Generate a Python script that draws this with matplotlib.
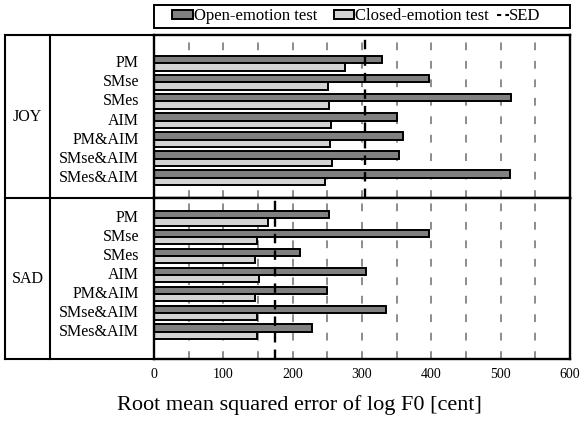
import matplotlib
matplotlib.use("Agg")
import matplotlib.pyplot as plt
import numpy as np
from matplotlib.lines import Line2D
from matplotlib.patches import Patch, Rectangle

plt.rcParams['font.family'] = ['Liberation Serif', 'DejaVu Serif']

methods = ["PM", "SMse", "SMes", "AIM", "PM&AIM", "SMse&AIM", "SMes&AIM"]
groups = ["JOY", "SAD"]

joy_open = [329, 397, 515, 350, 359, 354, 514]
joy_closed = [275, 251, 252, 255, 254, 257, 246]
sad_open = [253, 396, 211, 306, 250, 334, 228]
sad_closed = [165, 148, 146, 152, 145, 148, 148]
sed = [305, 175]

xticks = [0, 100, 200, 300, 400, 500, 600]
grid_x = [50, 100, 150, 200, 250, 300, 350, 400, 450, 500, 550]

open_color = "#808080"
closed_color = "#d3d3d3"

fig = plt.figure(figsize=(5.81, 4.26), dpi=100)

W, H = 581.0, 426.0
x_tab0, x_sep, x_plot0, x_plot1 = 5 / W, 50 / W, 154 / W, 570 / W
y_top, y_mid, y_bot = 1 - 35.3 / H, 1 - 198 / H, 1 - 359.3 / H

panels = [
    (groups[0], joy_open, joy_closed, sed[0], y_mid, y_top, (6 + 1.06, -1.47)),
    (groups[1], sad_open, sad_closed, sed[1], y_bot, y_mid, (6 + 1.46, -1.07)),
]

y = np.arange(len(methods))
h = 0.385
axes = []
for name, op, cl, s, yb, yt, ylim in panels:
    ax = fig.add_axes([x_plot0, yb, x_plot1 - x_plot0, yt - yb])
    for gx in grid_x:
        ax.axvline(gx, color="#8c8c8c", lw=1.4, dashes=(4, 5.5), zorder=0)
    ax.barh(y - h / 2, op, height=h, color=open_color, edgecolor="black", lw=1.4, zorder=2)
    ax.barh(y + h / 2, cl, height=h, color=closed_color, edgecolor="black", lw=1.4, zorder=2)
    ax.axvline(s, color="black", lw=1.7, dashes=(4, 3), zorder=3)
    ax.set_xlim(0, 600)
    ax.set_ylim(*ylim)
    ax.set_yticks([])
    ax.tick_params(axis="x", length=0)
    for sp in ax.spines.values():
        sp.set_linewidth(1.7)
    # method labels
    for i, m in enumerate(methods):
        ax.text(-0.036, i, m, transform=ax.get_yaxis_transform(), ha="right",
                va="center", fontsize=11.5)
    fig.text((x_tab0 + x_sep) / 2, (yb + yt) / 2, name, ha="center", va="center",
             fontsize=11.5)
    axes.append(ax)

axes[0].set_xticklabels([])
axes[1].set_xticks(xticks)
axes[1].tick_params(axis="x", labelsize=10, pad=6.5)
fig.text(299 / W, 1 - 405 / H, "Root mean squared error of log F0 [cent]",
         ha="center", va="center", fontsize=16)

# left table lines
lw = 1.5
for xx in [x_tab0, x_sep]:
    fig.add_artist(Line2D([xx, xx], [y_bot, y_top], color="black", lw=lw, transform=fig.transFigure))
for yy in [y_top, y_mid, y_bot]:
    fig.add_artist(Line2D([x_tab0, x_plot0], [yy, yy], color="black", lw=lw, transform=fig.transFigure))

# legend frame and entries
fig.add_artist(Rectangle((153.5 / W, 1 - 28.3 / H), (569.5 - 153.5) / W, 23.5 / H,
                         transform=fig.transFigure, fill=False, edgecolor="black", lw=1.4))
leg_y = 1 - 16.5 / H
bars_handles = [
    Patch(facecolor=open_color, edgecolor="black", lw=1.4),
    Patch(facecolor=closed_color, edgecolor="black", lw=1.4),
]
fig.legend(bars_handles, ["Open-emotion test", "Closed-emotion test"], ncol=2,
           loc="center left", bbox_to_anchor=(169 / W, leg_y), frameon=False,
           fontsize=12, handlelength=1.25, handleheight=0.45, handletextpad=0.02,
           columnspacing=1.0, borderpad=0.2, borderaxespad=0)
fig.legend([Line2D([0], [0], color="black", lw=1.5, dashes=(2, 2))], ["SED"],
           loc="center left", bbox_to_anchor=(494 / W, leg_y), frameon=False,
           fontsize=12, handlelength=0.7, handletextpad=0.02, borderpad=0.2,
           borderaxespad=0)

fig.savefig("out.png", dpi=100)
